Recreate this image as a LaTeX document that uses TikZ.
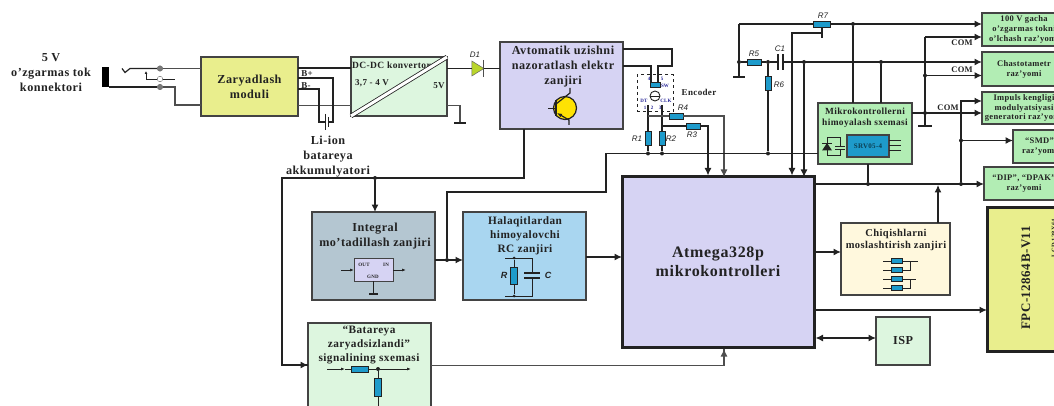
\documentclass[tikz,border=0pt]{standalone}
\usepackage{fontspec}
\setmainfont[LetterSpace=4]{Liberation Serif}
\setsansfont{Liberation Sans}
\usepackage{xcolor}
\usepackage{tikz}
\usetikzlibrary{shapes.geometric, positioning}
\usetikzlibrary{arrows.meta}
\tikzset{>={Latex[width=7pt,length=7.5pt]}}
\definecolor{linedark}{HTML}{222222}
\definecolor{chargeyellow}{HTML}{E9EE8D}
\definecolor{mintpale}{HTML}{DDF6DF}
\definecolor{lavender}{HTML}{D6D3F3}
\definecolor{slatebox}{HTML}{B4C6D1}
\definecolor{skybox}{HTML}{A9D6F0}
\definecolor{greenbox}{HTML}{B2EDB4}
\definecolor{creambox}{HTML}{FFF8DD}
\definecolor{resblue}{HTML}{1E9BCB}
\definecolor{diodegreen}{HTML}{B9D52A}
\newcommand{\fsz}[2]{\fontsize{#1}{#2}\selectfont}

\begin{document}
\begin{tikzpicture}[x=1pt, y=-1pt, box/.style={rectangle, draw=linedark!85, line width=1.2pt, inner sep=0pt, outer sep=0pt, align=center, text=linedark, font=\bfseries\fsz{12.2}{15}}, heavybox/.style={box, line width=3pt, draw=linedark}, outbox/.style={box, fill=greenbox, minimum width=84pt, font=\bfseries\fsz{8.5}{10}}, emptynode/.style={inner sep=0pt, outer sep=0pt, align=center, text=linedark, font=\bfseries\fsz{12.2}{15}}, smalltext/.style={emptynode, font=\bfseries\fsz{8.5}{10}}, tinytext/.style={inner sep=0pt, text=lavender!30!blue!60!black, font=\bfseries\fsz{5}{6}}, reslabel/.style={inner sep=0pt, text=linedark, font=\sffamily\itshape\fsz{8}{9}}, reshor/.style={rectangle, draw=linedark, fill=resblue, inner sep=0pt, minimum width=14pt, minimum height=6pt, line width=.8pt}, resver/.style={reshor, minimum width=6pt, minimum height=14pt}, jdot/.style={circle, fill=linedark, inner sep=0pt, minimum size=4pt}, contact/.style={circle, draw=linedark!70, fill=linedark!60, inner sep=0pt, minimum size=5.5pt}, wire/.style={line width=1.2pt, draw=linedark}, boldwire/.style={line width=1.5pt, draw=linedark}, greywire/.style={line width=1.1pt, draw=linedark!80}, thinwire/.style={line width=.8pt, draw=linedark}]

    \useasboundingbox (0,0) rectangle (1054,406);
    \clip (0,0) rectangle (1054,406);

    %Nodes
    \node[emptynode](jack_text) at (51,73){5 V\\o’zgarmas tok\\konnektori};
    \node[rectangle, fill=black, minimum width=7pt, minimum height=20pt, inner sep=0pt, outer sep=0pt](jack) at (105.5,77){};
    \node[contact](contact_a) at (160,68.5){};
    \node[contact, fill=white](contact_b) at (160,79){};
    \node[contact](contact_c) at (160,87){};

    \node[box, fill=chargeyellow, minimum width=97pt, minimum height=59pt](charge) at (249.5,86.5){Zaryadlash\\moduli};
    \node[box, fill=mintpale, minimum width=96pt, minimum height=59pt](dcdc)[right=53pt of charge]{};
    \node[box, fill=lavender, minimum width=123pt, minimum height=87pt](avt) at (561.5,85.5){};
    \node[emptynode](avt_text) at (563,67){Avtomatik uzishni\\nazoratlash elektr\\zanjiri};
    \node[circle, draw=linedark, fill=yellow!85!orange, line width=1.2pt, minimum size=23pt, inner sep=0pt](transistor) at (565,108){};

    \node[isosceles triangle, isosceles triangle stretches, draw=linedark!70, fill=diodegreen, minimum width=15pt, minimum height=12pt, inner sep=0pt, outer sep=0pt, line width=.5pt](diode) at (476,68.5){};
    \node[reslabel](d1_label) at (475,55){D1};

    \node[smalltext, font=\bfseries\fsz{9}{10}](b_plus_text) at (307,74){B+};
    \node[smalltext, font=\bfseries\fsz{9}{10}](b_minus_text) at (306,85.5){B-};
    \node[emptynode](battery_text)[below=20.5pt of dcdc.south west, xshift=-23pt]{Li-ion\\batareya\\akkumulyatori};
    \node[emptynode, font=\bfseries\fsz{9.5}{11}](dcdc_title) at (391.5,65){DC-DC konvertor};
    \node[emptynode, font=\bfseries\fsz{9}{11}](dcdc_in) at (372,83.5){3,7 - 4 V};
    \node[emptynode, font=\bfseries\fsz{9}{11}](dcdc_out) at (439,85.5){5V};

    \node[rectangle, draw=linedark, dashed, line width=1pt, minimum width=36pt, minimum height=37pt, inner sep=0pt](encoder) at (655,93.5){};
    \node[reshor, minimum width=10pt, minimum height=5pt](enc_sw) at (655,84.5){};
    \node[circle, draw=linedark, line width=.9pt, minimum size=10pt, inner sep=0pt](enc_knob) at (655,96){};
    \node[tinytext](enc_4) at (649,79){4};
    \node[tinytext](enc_5) at (662,79){5};
    \node[tinytext](enc_swt) at (665,86){SW};
    \node[tinytext](enc_dt) at (644,101){DT};
    \node[tinytext](enc_clk) at (666,101){CLK};
    \node[tinytext](enc_1) at (645,108){1};
    \node[tinytext](enc_2) at (652,108){2};
    \node[tinytext](enc_3) at (660,108){3};
    \node[emptynode, font=\bfseries\fsz{9}{11}](enc_text) at (699,92){Encoder};

    \node[resver](r1) at (648,138){};
    \node[resver](r2) at (662,138){};
    \node[reshor](r3) at (693,126){};
    \node[reshor](r4) at (676,116){};
    \node[reshor](r5) at (754,62){};
    \node[resver](r6) at (768,83){};
    \node[reshor, minimum width=17pt](r7) at (821.5,24){};
    \node[reslabel](r1_label) at (637,139){R1};
    \node[reslabel](r2_label) at (671,139){R2};
    \node[reslabel](r3_label) at (692,135){R3};
    \node[reslabel](r4_label) at (683,108){R4};
    \node[reslabel](r5_label) at (754,54){R5};
    \node[reslabel](r6_label) at (779,85){R6};
    \node[reslabel](r7_label) at (823,16){R7};
    \node[reslabel](c1_label) at (780,49){C1};

    \node[heavybox, fill=lavender, minimum width=192pt, minimum height=170pt, font=\bfseries\fsz{16}{19}](mcu) at (718,262){Atmega328p\\mikrokontrolleri};

    \node[box, fill=slatebox, minimum width=123pt, minimum height=88pt](integral) at (373.5,256){};
    \node[emptynode](integral_text) at (375,236){Integral\\mo’tadillash zanjiri};
    \node[box, fill=lavender, minimum width=39pt, minimum height=23pt, line width=.9pt](regulator) at (373.5,269.5){};
    \node[tinytext, text=linedark](reg_out) at (364,265){OUT};
    \node[tinytext, text=linedark](reg_in) at (386,265){IN};
    \node[tinytext, text=linedark](reg_gnd) at (373,277){GND};

    \node[box, fill=skybox, minimum width=123pt, minimum height=88pt](halaq)[right=28pt of integral]{};
    \node[emptynode, font=\bfseries\fsz{11.3}{14}](halaq_text) at (525,236){Halaqitlardan\\himoyalovchi\\RC zanjiri};
    \node[resver, minimum width=7pt, minimum height=17pt](halaq_r) at (514,276){};
    \node[reslabel, font=\sffamily\bfseries\itshape\fsz{9}{10}](halaq_r_label) at (504,275){R};
    \node[reslabel, font=\sffamily\bfseries\itshape\fsz{9}{10}](halaq_c_label) at (548,275){C};
    \node[jdot, minimum size=3pt](halaq_top) at (514,258){};
    \node[jdot, minimum size=3pt](halaq_bottom) at (514,296){};

    \node[box, fill=mintpale, minimum width=123pt, minimum height=94pt](lowbat) at (369.5,370){};
    \node[emptynode, font=\bfseries\fsz{11.3}{14}](lowbat_text) at (369,345){“Batareya\\zaryadsizlandi”\\signalining sxemasi};
    \node[reshor, minimum width=17pt](lowbat_r1) at (359.5,369){};
    \node[resver, minimum width=7pt, minimum height=18pt](lowbat_r2) at (378,387){};
    \node[jdot](lowbat_dot) at (378,369){};

    \node[box, fill=greenbox, minimum width=94pt, minimum height=61pt](protect) at (865,133.5){};
    \node[emptynode, font=\bfseries\fsz{9.4}{11}](protect_text) at (865,118){Mikrokontrollerni\\himoyalash sxemasi};
    \node[box, fill=resblue, minimum width=42pt, minimum height=22pt, text=resblue!40!black, font=\bfseries\fsz{7}{8}](srv) at (868,146){SRV05-4};

    \node[box, fill=creambox, minimum width=109pt, minimum height=72pt](chiq) at (895.5,259){};
    \node[emptynode, font=\bfseries\fsz{10.5}{12.5}](chiq_text) at (896,240){Chiqishlarni\\moslashtirish zanjiri};
    \node[reshor, minimum width=11pt, minimum height=4.5pt](chiq_r1) at (896.5,261){};
    \node[reshor, minimum width=11pt, minimum height=4.5pt](chiq_r2) at (896.5,270){};
    \node[reshor, minimum width=11pt, minimum height=4.5pt](chiq_r3) at (896.5,279){};
    \node[reshor, minimum width=11pt, minimum height=4.5pt](chiq_r4) at (896.5,288){};

    \node[box, fill=mintpale, minimum width=54pt, minimum height=48pt](isp) at (903,341){ISP};

    \node[outbox, minimum height=33pt, font=\bfseries\fsz{8.5}{9.8}](hundred) at (1024,29.5){100 V gacha\\o’zgarmas tokni\\o’lchash raz’yomi};
    \node[outbox, minimum height=34pt](chasto)[below=6pt of hundred]{Chastotametr\\raz’yomi};
    \node[outbox, minimum height=32pt, font=\bfseries\fsz{8.5}{9.8}](impuls)[below=6pt of chasto]{Impuls kengligi\\modulyatsiyasi\\generatori raz’yomi};
    \node[outbox, minimum width=53pt, minimum height=33pt](smd) at (1039.5,146.5){“SMD”\\raz’yomi};
    \node[outbox, minimum width=80pt, minimum height=33pt](dip) at (1024,183.5){“DIP”, “DPAK”\\raz’yomi};
    \node[heavybox, fill=chargeyellow, minimum width=100pt, minimum height=144pt](fpc) at (1037,279){};
    \node[emptynode, rotate=90, font=\bfseries\fsz{13}{14}](fpc_text) at (1026,278){FPC-12864B-V11};
    \node[emptynode, rotate=90, font=\bfseries\fsz{6.5}{8}](fpc_lcd) at (1054,238){LCD 128X64};

    \node[smalltext](com_a) at (962,43){COM};
    \node[smalltext](com_b) at (962,70){COM};
    \node[smalltext](com_c) at (948,108){COM};

    %Junctions
    \node[jdot](dot_bat) at (375,178){};
    \node[jdot](dot_rc) at (447,260){};
    \node[jdot](dot_r1) at (648,153.5){};
    \node[jdot](dot_r2) at (662,153.5){};
    \node[jdot](dot_r6) at (768,153.5){};
    \node[jdot](dot_gnd) at (739,62){};
    \node[jdot](dot_c1) at (768,62){};
    \node[jdot](dot_clk) at (804,62){};
    \node[jdot](dot_rst) at (881,62){};
    \node[jdot](dot_top) at (853,24){};
    \node[jdot](dot_prot) at (868,184){};
    \node[jdot](dot_bus) at (961,184){};
    \node[jdot](dot_smd) at (961,140.5){};
    \node[jdot](dot_com) at (925,113){};
    \node[jdot](dot_comb) at (925,75.5){};

    \coordinate (jack_tip) at (122,68.5);
    \coordinate (jack_low) at (175,105);
    \coordinate (sw_arrow) at (146,71);
    \coordinate (dc_top) at (351,68);
    \coordinate (dc_low) at (351,105.5);
    \coordinate (b_plus) at (333,78);
    \coordinate (b_minus) at (319,89);
    \coordinate (batt_long) at (325,122);
    \coordinate (batt_short) at (328,122);
    \coordinate (gnd_dcdc) at (460,123);
    \coordinate (d1_in) at (447,68.5);
    \coordinate (d1_bar) at (483,68.5);
    \coordinate (avt_a) at (672,49);
    \coordinate (avt_b) at (658,66);
    \coordinate (avt_c) at (651,66);
    \coordinate (pin_dt) at (648,105);
    \coordinate (pin_clk) at (662,105);
    \coordinate (bus_left) at (606,192);
    \coordinate (bat_line) at (524,178);
    \coordinate (bat_left) at (282,178);
    \coordinate (lowbat_in) at (308,365);
    \coordinate (lowbat_out) at (431,365.5);
    \coordinate (lowbat_up) at (724,349);
    \coordinate (gnd_left) at (739,77);
    \coordinate (top_left) at (739,24);
    \coordinate (wiper) at (822,33);
    \coordinate (wiper_end) at (822,38);
    \coordinate (c1_a) at (778,62);
    \coordinate (c1_b) at (783,62);
    \coordinate (gnd_com) at (925,126);
    \coordinate (com_top) at (925,37);
    \coordinate (impuls_up) at (961,101);
    \coordinate (mcu_out) at (815,184);
    \coordinate (chiq_tip) at (938,185);

    %Lines
    \draw[wire] (jack.south east) -- (contact_c);
    \draw[greywire] (contact_c) -- (175,87) -- (jack_low) -- (charge.west |- jack_low);
    \draw[wire] (jack_tip) -- ++(3,4) -- ++(5,-4) -- (contact_a);
    \draw[greywire] (contact_a) -- (charge.west |- contact_a);
    \draw[thinwire, -{Latex[width=3pt,length=3pt]}] (146,79) -- (sw_arrow);
    \draw[thinwire] (146,79) -- (contact_b) -- (175,79);

    \draw[boldwire] (charge.east |- dc_top) -- (dc_top);
    \draw[greywire] (charge.east |- dc_low) -- (dc_low);
    \draw[wire] (charge.east |- b_plus) -- (b_plus) |- (batt_short);
    \draw[wire] (charge.east |- b_minus) -- (b_minus) |- (batt_long);
    \draw[thinwire] ([yshift=8pt]batt_long) -- ([yshift=-8pt]batt_long);
    \draw[thinwire] ([yshift=5pt]batt_short) -- ([yshift=-5pt]batt_short);

    \draw[line width=.8pt, draw=linedark, double=white, double distance=3pt] (dcdc.south west) -- (dcdc.north east);

    \draw[wire] (d1_in) -- (diode);
    \draw[wire] (d1_bar) -- (avt.west |- d1_bar);
    \draw[line width=.8pt, draw=linedark!80] (483,60) -- (483,77);
    \draw[greywire] (dcdc.east |- dc_low) -| (gnd_dcdc);
    \draw[wire] ([xshift=-6pt]gnd_dcdc) -- ([xshift=6pt]gnd_dcdc);

    \draw[thinwire] (548,108) -- (556,108);
    \draw[line width=1.2pt, draw=linedark] (556,100) -- (556,116);
    \draw[wire] (556,104) -- (570,93) -- (570,88);
    \draw[wire, -{Latex[width=4pt,length=5pt]}] (569,125) -- (569,120) -- (557,113);

    \draw[wire] (avt.east |- avt_a) -- (avt_a) |- (avt_b) -- (enc_sw.north -| avt_b);
    \draw[wire] (avt.east |- avt_c) -- (avt_c) -- (enc_sw.north -| avt_c);
    \draw[thinwire] (enc_knob.west) -- (enc_knob.east);

    \draw[wire] (pin_dt) -- (r1) -- (dot_r1);
    \draw[wire] (pin_clk) -- (r2) -- (dot_r2);
    \draw[greywire, ->] (pin_dt |- r4) -- (r4) -| (mcu.north -| lowbat_up);
    \draw[wire, ->] (pin_clk |- r3) -- (r3) -| (708,175.5);

    \draw[wire] (protect.west |- dot_r1) -- (bus_left |- dot_r1) -- (bus_left) -- (dot_rc.north |- bus_left) -- (dot_rc);
    \draw[wire] (avt.south -| bat_line) -- (bat_line) -- (bat_left) |- (lowbat_in);
    \draw[wire, ->] (dot_bat) -- (integral.north -| dot_bat);
    \draw[wire, ->] (bat_left |- lowbat_in) -- (lowbat_in);
    \draw[boldwire, ->] (integral.east |- dot_rc) -- (halaq.west |- dot_rc);
    \draw[wire, ->] (halaq.east |- 0,257) -- (mcu.west |- 0,257);

    \draw[greywire] (lowbat_out) -| (lowbat_up);
    \draw[greywire, ->] (lowbat_up |- lowbat_out) -- (lowbat_up);

    \draw[thinwire, ->, >={Latex[width=3pt,length=4pt]}] (341,270) -- (regulator.west |- 0,270);
    \draw[thinwire, ->, >={Latex[width=3pt,length=4pt]}] (regulator.east |- 0,270) -- (406,270);
    \draw[thinwire] (regulator.south -| reg_gnd) -- (373,294);
    \draw[wire] (369,294) -- (378,294);

    \draw[thinwire] (505,258) -- (532,258) -- (532,273);
    \draw[thinwire] (505,296) -- (532,296) -- (532,278);
    \draw[line width=1.1pt, draw=linedark] (524,273) -- (540,273);
    \draw[line width=1.1pt, draw=linedark] (524,278) -- (540,278);
    \draw[thinwire] (halaq_top) -- (halaq_r) -- (halaq_bottom);

    \draw[thinwire, -{Latex[width=3pt,length=4pt]}] (327,369) -- (345,369);
    \draw[thinwire] (345,369) -- (lowbat_r1) -- (lowbat_dot);
    \draw[thinwire, ->, >={Latex[width=3pt,length=4pt]}] (lowbat_dot) -- (411,369);
    \draw[thinwire] (lowbat_dot) -- (lowbat_r2) -- (378,410);

    \draw[wire] (top_left) |- (gnd_left);
    \draw[wire] ([xshift=-6pt]gnd_left) -- ([xshift=6pt]gnd_left);
    \draw[wire] (top_left) -- (r7);
    \draw[wire, ->] (r7) -- (hundred.west |- r7);
    \draw[wire] (dot_gnd) -- (r5) -- (dot_c1) -- (c1_a);
    \draw[wire] (dot_c1) -- (r6) -- (dot_r6);
    \draw[line width=1.1pt, draw=linedark] (778,54) -- (778,70);
    \draw[line width=1.1pt, draw=linedark] (783,54) -- (783,70);
    \draw[wire, ->] (c1_b) -- (chasto.west |- c1_b);
    \draw[wire, ->] (dot_clk) -- (mcu.north -| dot_clk);
    \draw[wire] (dot_rst) -- (protect.north -| dot_rst);
    \draw[wire] (dot_top) -- (protect.north -| dot_top);
    \draw[wire] (r7.south -| wiper) -- (wiper_end);
    \draw[wire, ->] (wiper) -| (792,175.5);

    \draw[wire, ->] (protect.east |- dot_com) -- (impuls.west |- dot_com);
    \draw[wire] (com_top) -- (gnd_com);
    \draw[wire] ([xshift=-7pt]gnd_com) -- ([xshift=7pt]gnd_com);
    \draw[wire, ->] (com_top) -- (hundred.west |- com_top);
    \draw[wire, ->] (dot_comb) -- (chasto.west |- dot_comb);
    \draw[wire] (dot_prot) -- (protect.south -| dot_prot);
    \draw[wire, ->] (mcu_out) -- (dip.west |- mcu_out);
    \draw[boldwire, ->] (dot_bus) -- (impuls_up) -- (impuls.west |- impuls_up);
    \draw[wire, ->] (dot_smd) -- (smd.west |- dot_smd);

    \draw[thinwire] (827,137.5) -- (840,137.5) -- (840,146);
    \draw[thinwire] (827,155) -- (840,155) -- (840,149);
    \draw[thinwire] (827,137.5) -- (827,155);
    \fill[linedark] (822,150.5) -- (832,150.5) -- (827,143) -- cycle;
    \draw[thinwire] (822,143) -- (832,143);
    \draw[thinwire] (835,146) -- (845,146);
    \draw[thinwire] (835,149) -- (845,149);
    \draw[thinwire] (889,140) -- (901,140);
    \draw[thinwire] (889,145) -- (901,145);
    \draw[thinwire] (889,150) -- (901,150);

    \draw[wire, ->] (mcu.east |- chiq) ++(1.5,-7) -- (chiq.west |- 0,252);
    \draw[wire, ->] (chiq.north -| chiq_tip) -- (chiq_tip);
    \draw[boldwire, ->] (mcu.east |- 0,310) -- (fpc.west |- 0,310);
    \draw[wire, <->] (mcu.east |- isp) ++(1.5,-3) -- (isp.west |- 0,338);

    \draw[thinwire] (883,261) -- (chiq_r1) -- (918,261);
    \draw[thinwire] (883,270) -- (chiq_r2) -- (910,270) -- (910,261);
    \draw[thinwire] (883,279) -- (chiq_r3) -- (916,279);
    \draw[thinwire] (883,288) -- (chiq_r4) -- (910,288) -- (910,279);

\end{tikzpicture}
\end{document}
